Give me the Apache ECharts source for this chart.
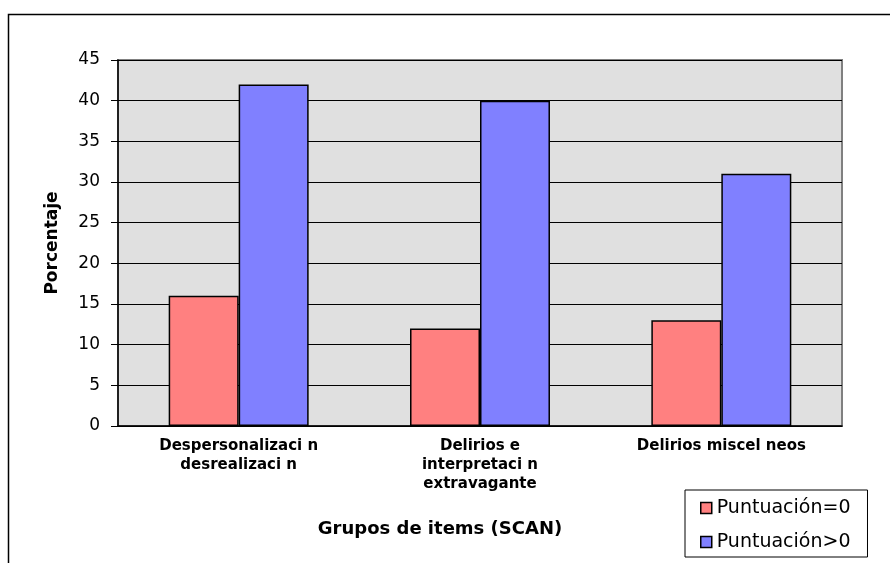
<!DOCTYPE html>
<html lang="es" style="height: 100%">
<head>
    <meta charset="utf-8">
</head>
<body style="height: 100%; margin: 0; background: #fff">
    <div id="container" style="width: 890px; height: 563px"></div>

    <script type="text/javascript" src="https://cdn.jsdelivr.net/npm/echarts@6/dist/echarts.min.js"></script>
    <script type="text/javascript">
        // datos
        var categorias = ['Despersonalizaci n\ndesrealizaci n', 'Delirios e\ninterpretaci n\nextravagante', 'Delirios miscel neos'];
        var serieCero = [16, 12, 13];
        var serieMayor = [42, 40, 31];
        var nombresSeries = ['Puntuación=0', 'Puntuación>0'];

        var dom = document.getElementById('container');
        var myChart = echarts.init(dom, null, { renderer: 'canvas' });

        var fuente = 'DejaVu Sans';

        var option = {
            backgroundColor: '#fff',
            animation: false,
            graphic: [{
                // marco exterior del grafico
                type: 'rect',
                shape: { x: 8.5, y: 14.5, width: 900, height: 600 },
                style: { fill: 'none', stroke: '#000', lineWidth: 1.5 },
                silent: true
            }],
            grid: {
                left: 118,
                right: 48,
                top: 60,
                bottom: 137,
                show: true,
                backgroundColor: '#e0e0e0',
                borderColor: '#808080',
                borderWidth: 2
            },
            legend: {
                orient: 'vertical',
                left: 685,
                top: 490,
                padding: [7, 17, 4, 15],
                itemGap: 12,
                itemWidth: 11,
                itemHeight: 11,
                backgroundColor: '#fff',
                borderColor: '#000',
                borderWidth: 1,
                icon: 'rect',
                itemStyle: { borderColor: '#000', borderWidth: 1.5 },
                textStyle: {
                    fontFamily: fuente,
                    fontSize: 19,
                    lineHeight: 22,
                    color: '#000'
                },
                data: nombresSeries
            },
            xAxis: {
                type: 'category',
                data: categorias,
                name: 'Grupos de items (SCAN)',
                nameLocation: 'middle',
                nameGap: 94,
                nameTextStyle: {
                    fontFamily: fuente,
                    fontWeight: 'bold',
                    fontSize: 18,
                    color: '#000',
                    padding: [0, 80, 0, 0]
                },
                axisLine: { lineStyle: { color: '#000', width: 1.5 } },
                axisTick: { length: 8, lineStyle: { color: '#000' } },
                axisLabel: {
                    interval: 0,
                    margin: 11,
                    fontFamily: fuente,
                    fontWeight: 'bold',
                    fontSize: 15,
                    lineHeight: 19,
                    color: '#000'
                }
            },
            yAxis: {
                type: 'value',
                min: 0,
                max: 45,
                interval: 5,
                name: 'Porcentaje',
                nameLocation: 'middle',
                nameGap: 57,
                nameTextStyle: {
                    fontFamily: fuente,
                    fontWeight: 'bold',
                    fontSize: 17,
                    color: '#000'
                },
                axisLine: { show: true, lineStyle: { color: '#000', width: 1.5 } },
                axisTick: { show: true, length: 7, lineStyle: { color: '#000' } },
                axisLabel: {
                    margin: 18,
                    fontFamily: fuente,
                    fontSize: 17,
                    color: '#000'
                },
                splitLine: { lineStyle: { color: '#000', width: 1 } }
            },
            series: [
                {
                    name: nombresSeries[0],
                    type: 'bar',
                    data: serieCero,
                    barGap: '0%',
                    barCategoryGap: '42%',
                    itemStyle: { color: '#ff8080', borderColor: '#000', borderWidth: 1.5 }
                },
                {
                    name: nombresSeries[1],
                    type: 'bar',
                    data: serieMayor,
                    barGap: '0%',
                    barCategoryGap: '42%',
                    itemStyle: { color: '#8080ff', borderColor: '#000', borderWidth: 1.5 }
                }
            ]
        };

        myChart.setOption(option);
        window.addEventListener('resize', myChart.resize);
    </script>
</body>
</html>
